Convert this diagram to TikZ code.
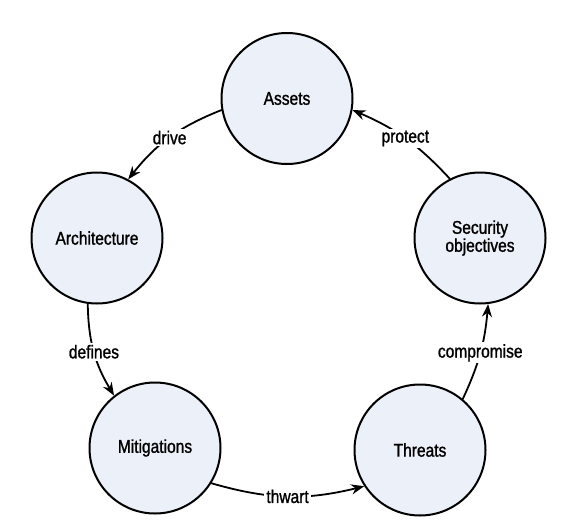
\documentclass[tikz,border=0pt]{standalone}
\usepackage{fontspec}
\setmainfont{Liberation Sans}[FakeStretch=0.84,FakeBold=1.2]
\usetikzlibrary{arrows.meta}
\definecolor{discfill}{RGB}{236,240,248}
\begin{document}
\begin{tikzpicture}[x=1pt, y=-1pt, font=\fontsize{18.5}{19}\selectfont, line join=round, line cap=round, >={Stealth[length=13pt,width=10pt]},
	topic/.style={circle, draw, line width=2pt, fill=discfill, minimum size=131pt, inner sep=0pt, align=center},
	verb/.style={fill=white, inner sep=2pt, midway}]
	\useasboundingbox (0,0) rectangle (570,527);
	% the five topics
	\node[topic] (assets) at (287,98.5) {Assets};
	\node[topic] (arch) at (97,238) {Architecture};
	\node[topic] (secobj) at (480,238) {Security\\[-1pt]objectives};
	\node[topic] (mitig) at (155,448) {Mitigations};
	\node[topic] (threats) at (420,450) {Threats};
	% relations
	\draw[->, line width=1.8pt] (assets.190) to[bend right=15] node[verb] {drive} (arch.62);
	\draw[->, line width=1.8pt] (arch.262) to[bend right=15] node[verb] {defines} (mitig.128);
	\draw[->, line width=1.8pt] (mitig.-32) to[bend right=15] node[verb] {thwart} (threats.213);
	\draw[->, line width=1.8pt] (threats.50) to[bend right=10] node[verb] {compromise} (secobj.277);
	\draw[->, line width=1.8pt] (secobj.117) to[bend right=12] node[verb] {protect} (assets.350);
\end{tikzpicture}
\end{document}
